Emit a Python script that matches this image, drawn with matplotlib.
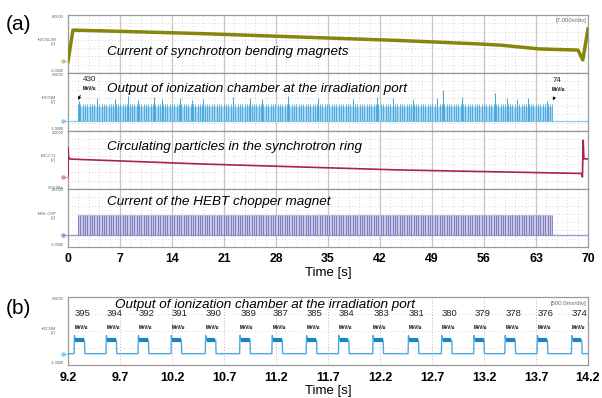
import numpy as np
import matplotlib
matplotlib.use("Agg")
import matplotlib.pyplot as plt

plt.rcParams['font.family'] = ['Liberation Sans', 'DejaVu Sans']

# ---------------- data ----------------
time_ticks_a = [0, 7, 14, 21, 28, 35, 42, 49, 56, 63, 70]
time_ticks_b = [9.2, 9.7, 10.2, 10.7, 11.2, 11.7, 12.2, 12.7, 13.2, 13.7, 14.2]

bend_t = [0, 0.67, 17.8, 31.2, 44.7, 55.5, 58.2, 63.5, 68.65, 69.3, 70]
bend_v = [0, 5.4, 4.8, 4.2, 3.6, 3.0, 2.8, 2.15, 1.95, 0.25, 5.6]

circ_t = [0, 0.02, 0.06, 0.27, 17.8, 44.7, 69.1, 69.25, 69.35, 69.45, 70]
circ_v = [0.0, 1.27, 0.9, 0.79, 0.58, 0.32, 0.17, 0.02, 1.6, 0.8, 0.8]

spill_start = 1.35      # s
spill_end = 65.2        # s
spill_period = 0.316    # s
ic_level = 1.75
ic_fill_level = 1.45
ic_tall_t = [1.48, 3.9, 6.33, 8.08, 9.42, 11.58, 12.65, 15.08, 16.69, 18.17, 22.21,
             24.5, 26.1, 29.6, 33.65, 38.4, 41.6, 43.7, 46.4, 49.7, 50.5, 53.0,
             57.5, 59.1, 60.4, 61.9, 64.5]
ic_tall_v = [2.1, 2.4, 2.3, 2.6, 2.2, 2.5, 2.3, 2.4, 2.2, 2.3, 2.5,
             2.4, 2.3, 2.6, 2.4, 2.3, 2.5, 2.4, 2.3, 2.4, 3.2, 2.5,
             2.9, 2.4, 2.3, 2.4, 2.1]
chop_level = 8.8

b_pulse_t = [9.258, 9.565, 9.873, 10.19, 10.52, 10.85, 11.16, 11.49, 11.80, 12.13,
             12.47, 12.79, 13.10, 13.40, 13.71, 14.04]
b_energy = [395, 394, 392, 391, 390, 389, 387, 385, 384, 383, 381, 380, 379, 378, 376, 374]
b_width = 0.10
b_level = 1.2
b_peak = 1.6

titles_a = ["Current of synchrotron bending magnets",
            "Output of ionization chamber at the irradiation port",
            "Circulating particles in the synchrotron ring",
            "Current of the HEBT chopper magnet"]
chan_names = ["IDCNL2M", "IDCNM", "IDCCT2", "HBL-CHP"]
ylims = [(-2, 8), (-1, 5), (-0.5, 2), (-5, 20)]
ylabels_top = ["8.0000", "5.0000", "2.0000", "20.000"]
ylabels_bot = ["-2.0000", "-1.0000", "-500.00m", "-5.0000"]
colors = ["#86860a", "#44a6dc", "#a8205c", "#6a6ab4"]
light_colors = ["#c8c890", "#8cc8ec", "#d890b0", "#9c9cd4"]

# ---------------- figure ----------------
W, H = 602, 398
fig = plt.figure(figsize=(W / 100, H / 100), dpi=100)


def ax_px(l, t, r, b):
    return fig.add_axes([l / W, 1 - b / H, (r - l) / W, (b - t) / H])


GRID = "#c6c6c6"
SPINE = "#9a9a9a"


def style_panel(ax, xlim, major, nminor, nrows, dotted_major=False):
    ax.set_xlim(*xlim)
    for s in ax.spines.values():
        s.set_color(SPINE)
        s.set_linewidth(0.9)
    ax.set_yticks([])
    ax.tick_params(axis='x', length=0)
    y0, y1 = ax.get_ylim()
    for i, m in enumerate(major):
        if 0 < i < len(major) - 1:
            if dotted_major:
                ax.axvline(m, color="#b8b8b8", lw=0.7, ls=(0, (1, 2)), zorder=0)
            else:
                ax.axvline(m, color=GRID, lw=0.9, zorder=0)
        if i < len(major) - 1:
            step = (major[i + 1] - m) / nminor
            for k in range(1, nminor):
                ax.axvline(m + k * step, color="#c8c8c8", lw=0.6, ls=(0, (1, 3)), zorder=0)
    for k in range(1, nrows):
        ax.axhline(y0 + (y1 - y0) * k / nrows, color="#c8c8c8", lw=0.6,
                   ls=(0, (1, 3)), zorder=0)


top = 15
ph = 58
axes = []
for i in range(4):
    ax = ax_px(68, top + i * ph, 588, top + (i + 1) * ph)
    ax.set_ylim(*ylims[i])
    style_panel(ax, (0, 70), time_ticks_a, 5, 7)
    ax.set_xticks(time_ticks_a)
    if i < 3:
        ax.set_xticklabels([])
    axes.append(ax)

# panel 1 : bending magnets
axes[0].plot(bend_t, bend_v, color=colors[0], lw=2.5, solid_joinstyle='round', zorder=3)

# panel 2 : ionization chamber
ic_times = np.arange(spill_start, spill_end, spill_period)
ax = axes[1]
ax.plot([0, 70], [0, 0], color=light_colors[1], lw=0.9, zorder=2)
ax.fill_between([spill_start, spill_end], 0, ic_fill_level, color="#a8d6f0", lw=0, zorder=1)
ax.vlines(ic_times, 0, ic_level, color=colors[1], lw=0.6, zorder=2)
ax.vlines(ic_tall_t, 0, ic_tall_v, color=colors[1], lw=0.7, zorder=3)

# panel 3 : circulating particles
axes[2].plot(circ_t, circ_v, color=colors[2], lw=1.2, zorder=3)

# panel 4 : chopper
ax = axes[3]
ax.plot([0, 70], [0, 0], color=light_colors[3], lw=1.0, zorder=2)
ax.fill_between([spill_start, spill_end], 0, chop_level, color="#c8c8e6", lw=0, zorder=1)
ax.vlines(ic_times, 0, chop_level, color=colors[3], lw=0.55, zorder=2)

# titles
title_y = [52, 89, 147, 202]
for i, ax in enumerate(axes):
    fig.text(107 / W, 1 - title_y[i] / H, titles_a[i], fontsize=9.7, style='italic',
             va='center', ha='left')

# left tiny labels and ground markers
for i, ax in enumerate(axes):
    yt = top + i * ph
    fig.text(64 / W, 1 - (yt + 1.5) / H, ylabels_top[i], fontsize=2.8, ha='right',
             va='center', color="#555555")
    fig.text(64 / W, 1 - (yt + ph - 1.5) / H, ylabels_bot[i], fontsize=2.8, ha='right',
             va='center', color="#555555")
    fig.text(56 / W, 1 - (yt + 27) / H, "\u25aa" + chan_names[i] + "\n[V]", fontsize=2.8,
             ha='right', va='center', color="#666666", linespacing=0.9)
    ax.plot([-0.7, 0], [0, 0], color=light_colors[i], lw=0.8, clip_on=False, zorder=4)
    ax.plot([-0.7], [0], marker='o', ms=2.2, color=light_colors[i], clip_on=False, zorder=4)

# annotations on ionization chamber
ax = axes[1]
ax.text(1.95, 4.28, "430", fontsize=5.8, ha='left', va='center', color="#222222")
ax.text(1.95, 3.35, "MeV/u", fontsize=3.3, ha='left', va='center', weight='bold')
ax.annotate("", xy=(1.22, 1.95), xytext=(1.8, 2.95),
            arrowprops=dict(arrowstyle='-|>', color='black', lw=0.6, mutation_scale=4))
ax.text(65.2, 4.2, "74", fontsize=5.8, ha='left', va='center', color="#222222")
ax.text(65.1, 3.25, "MeV/u", fontsize=3.3, ha='left', va='center', weight='bold')
ax.annotate("", xy=(65.15, 1.9), xytext=(65.6, 2.75),
            arrowprops=dict(arrowstyle='-|>', color='black', lw=0.6, mutation_scale=4))

axes[0].text(0.997, 0.90, "[7.000s/div]", transform=axes[0].transAxes, fontsize=4.3,
             ha='right', va='center', color="#666666")

axes[3].set_xticklabels([str(t) for t in time_ticks_a], fontsize=8.8, weight='bold')
axes[3].tick_params(axis='x', pad=4)
fig.text(328 / W, 1 - 273 / H, "Time [s]", fontsize=9.5, ha='center', va='center')
fig.text(6 / W, 1 - 25 / H, "(a)", fontsize=15, ha='left', va='center')

# ---------------- panel (b) ----------------
axb = ax_px(68, 297, 588, 365)
axb.set_ylim(-1, 5)
style_panel(axb, (9.2, 14.2), time_ticks_b, 1, 4, dotted_major=True)
axb.set_xticks(time_ticks_b)
axb.set_xticklabels([f"{t:.1f}" for t in time_ticks_b], fontsize=9, weight='bold')
axb.tick_params(axis='x', pad=5)

wt = [9.2]
wv = [0.0]
for t0 in b_pulse_t:
    wt += [t0, t0 + 0.004, t0 + 0.012, t0 + b_width, t0 + b_width + 0.004]
    wv += [0.0, b_peak, b_level, b_level, 0.0]
wt.append(14.2)
wv.append(0.0)
axb.plot(wt, wv, color="#4aaae0", lw=1.0, zorder=3)
for t0 in b_pulse_t:
    axb.plot([t0 + 0.012, t0 + b_width - 0.003], [b_level, b_level], color="#1a84c6",
             lw=3.0, solid_capstyle='butt', zorder=4)
for t0, e in zip(b_pulse_t, b_energy):
    axb.text(t0 + 0.005, 3.5, str(e), fontsize=6.8, ha='left', va='center', color="#222222")
    axb.text(t0 + 0.005, 2.3, "MeV/u", fontsize=3.3, ha='left', va='center', weight='bold')

axb.plot([9.2 - 0.05, 9.2], [0, 0], color="#8cc8ec", lw=0.8, clip_on=False)
axb.plot([9.2 - 0.05], [0], marker='o', ms=2.2, color="#8cc8ec", clip_on=False)
fig.text(64 / W, 1 - 299 / H, "5.0000", fontsize=2.8, ha='right', va='center', color="#555555")
fig.text(64 / W, 1 - 363 / H, "-1.0000", fontsize=2.8, ha='right', va='center', color="#555555")
fig.text(56 / W, 1 - 331 / H, "\u25aa" + "IDCNM\n[V]", fontsize=2.8, ha='right', va='center',
         color="#666666", linespacing=0.9)
axb.text(0.997, 0.9, "[500.0ms/div]", transform=axb.transAxes, fontsize=4.3,
         ha='right', va='center', color="#666666")
fig.text(115 / W, 1 - 305 / H, "Output of ionization chamber at the irradiation port",
         fontsize=9.7, style='italic', ha='left', va='center')
fig.text(328 / W, 1 - 391 / H, "Time [s]", fontsize=9.5, ha='center', va='center')
fig.text(6 / W, 1 - 309 / H, "(b)", fontsize=15, ha='left', va='center')

fig.savefig("out.png", dpi=100)
